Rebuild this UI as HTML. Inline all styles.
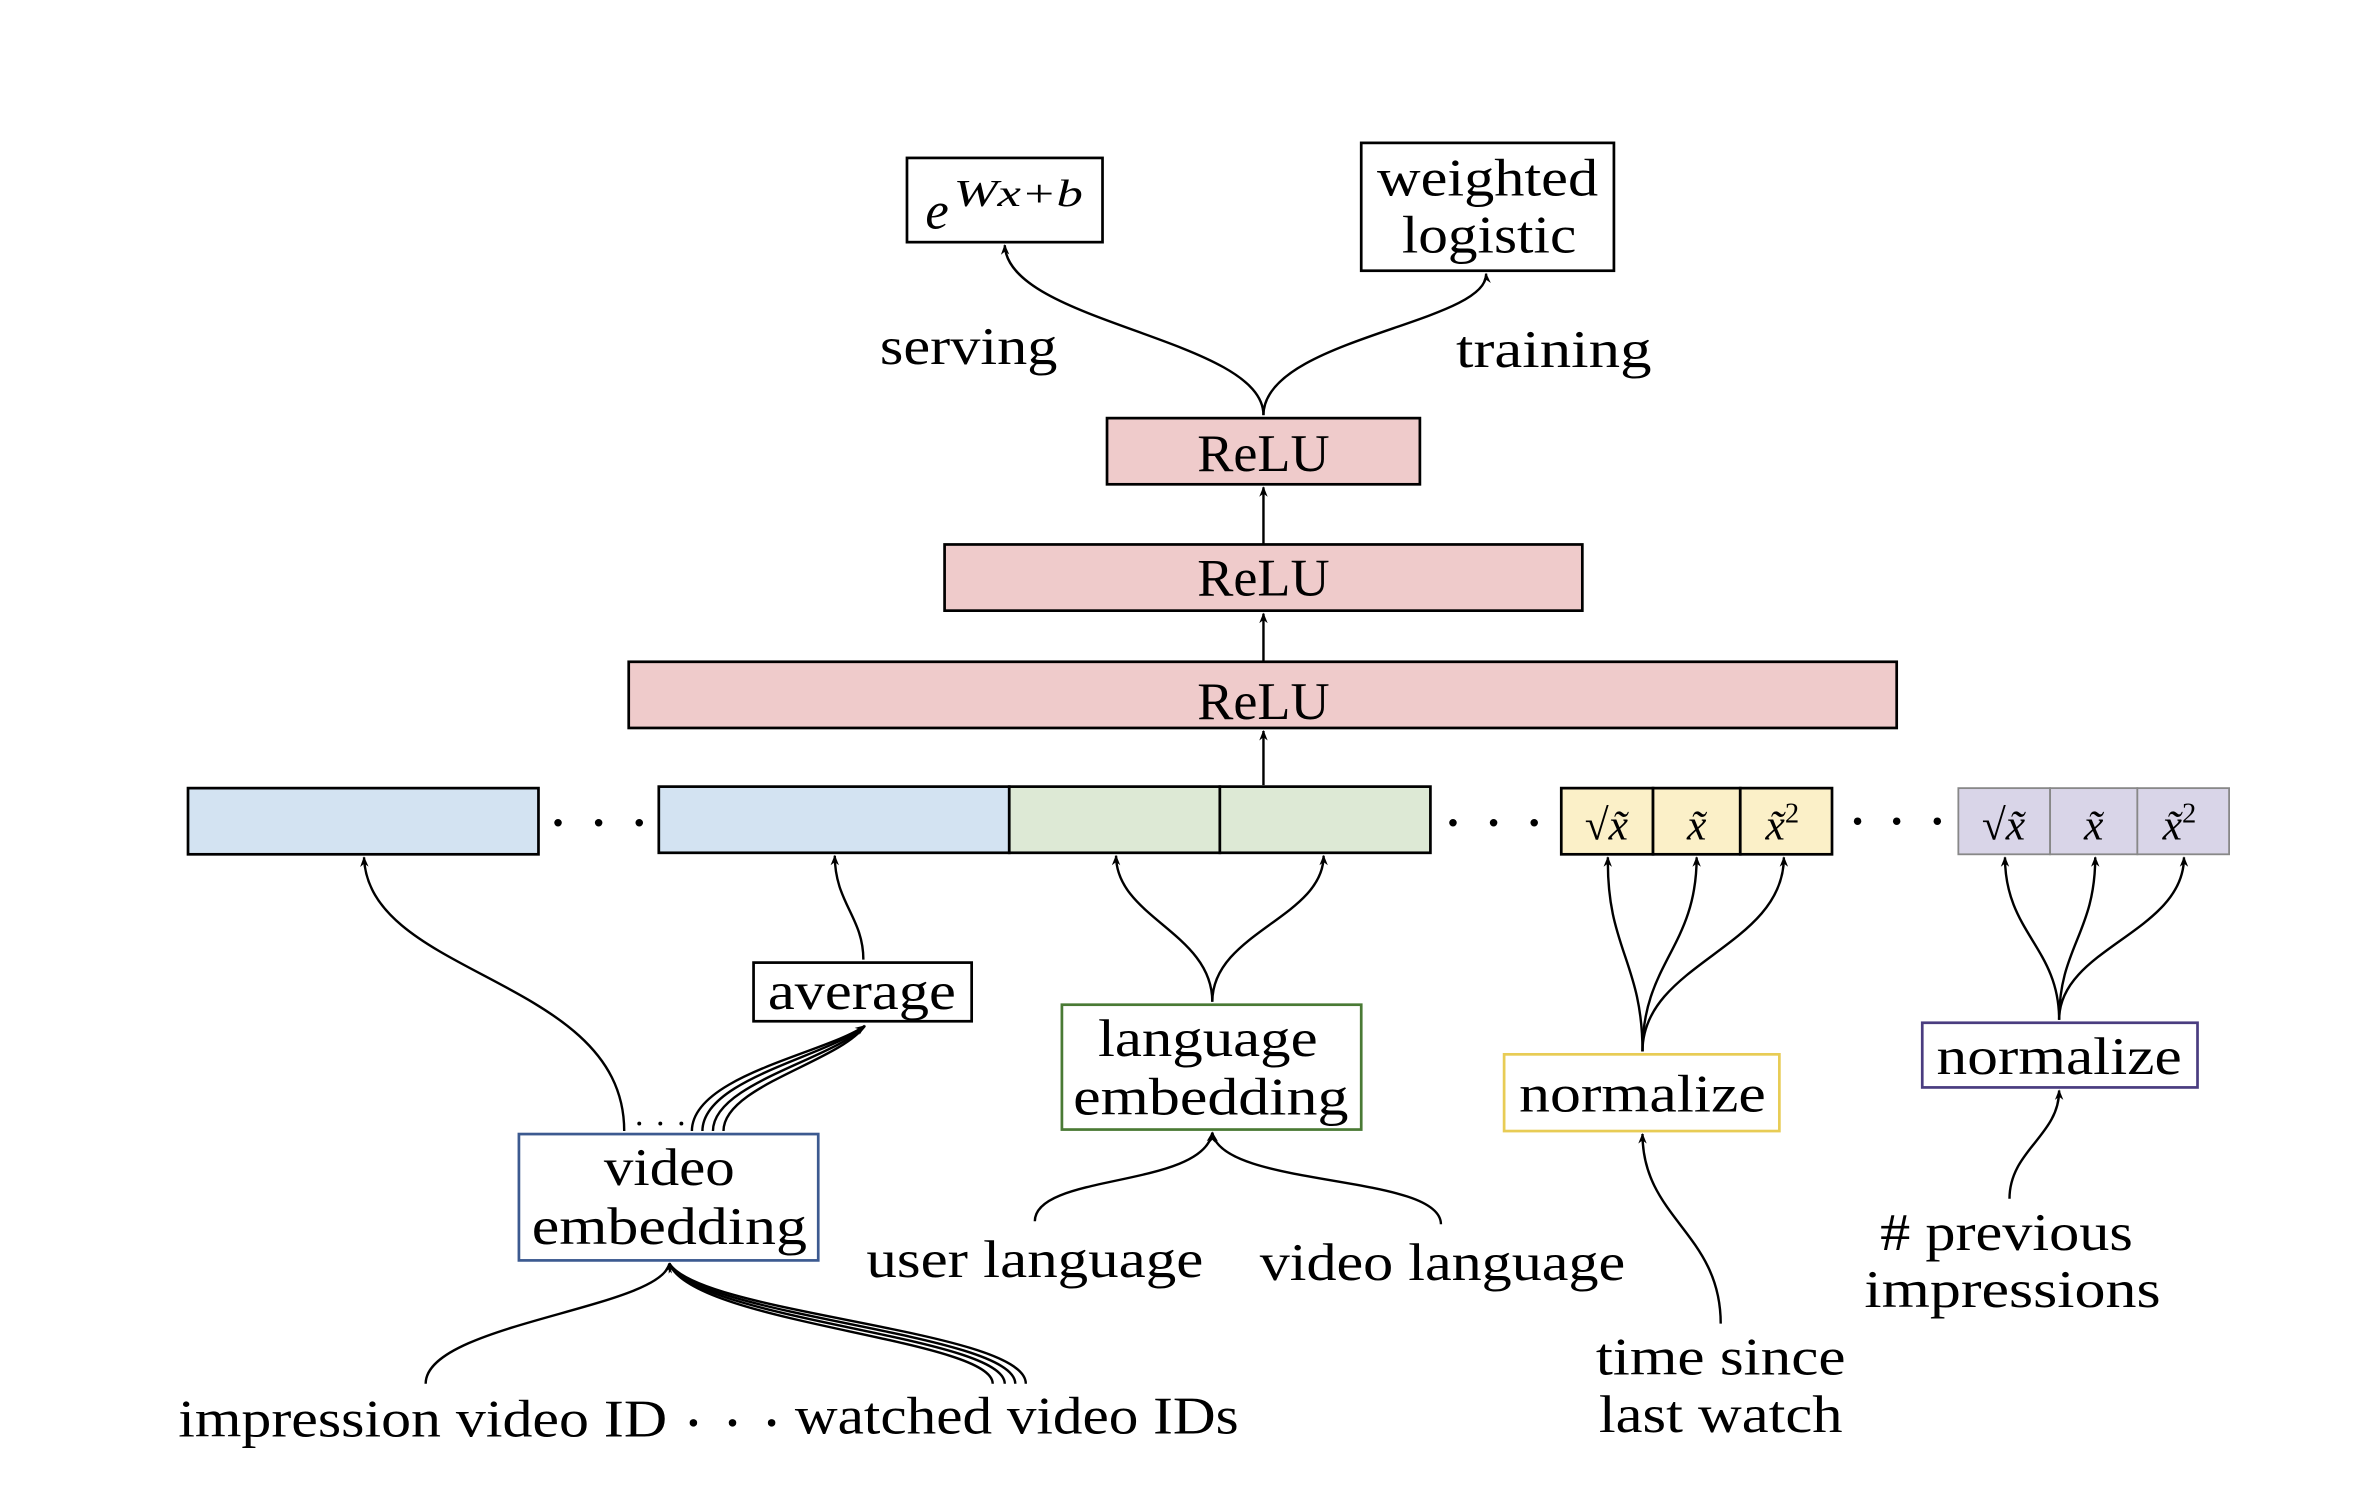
<!DOCTYPE html>
<html><head><meta charset="utf-8"><style>
html,body{margin:0;padding:0;background:#fff;}
svg{display:block;}
text{font-family:"Liberation Serif",serif;fill:#000;}
</style></head><body>
<svg width="2358" height="1500" viewBox="0 0 1567.7 997.3" preserveAspectRatio="none" xmlns="http://www.w3.org/2000/svg">
<defs>
<marker id="a" viewBox="0 0 10 10" refX="9" refY="5" markerWidth="7" markerHeight="7" orient="auto-start-reverse" markerUnits="userSpaceOnUse">
<path d="M0,1 L10,5 L0,9 L3,5 Z" fill="#000"/></marker>
</defs>
<g fill="none" stroke="#000" stroke-width="1.6">
<path d="M840,276 C840,225 670,215 668,163" marker-end="url(#a)"/>
<path d="M840,276 C840,225 990,215 988,182" marker-end="url(#a)"/>
<path d="M840,362 L840,324" marker-end="url(#a)"/>
<path d="M840,440 L840,408" marker-end="url(#a)"/>
<path d="M840,522 L840,486" marker-end="url(#a)"/>
<path d="M415,752 C415,650 245,650 242,570" marker-end="url(#a)"/>
<path d="M460,752 C460,715 550,700 575,682" marker-end="url(#a)"/>
<path d="M467,752 C467,717 552,702 575,682"/>
<path d="M474,752 C474,720 555,704 575,682"/>
<path d="M481,752 C481,722 558,706 575,682"/>
<path d="M574,638 C574,610 555,600 555,569" marker-end="url(#a)"/>
<path d="M806,666 C806,620 742,610 742,569" marker-end="url(#a)"/>
<path d="M806,666 C806,620 880,610 880,569" marker-end="url(#a)"/>
<path d="M688,812 C688,780 800,790 806,753" marker-end="url(#a)"/>
<path d="M958,814 C958,780 812,790 806,753" marker-end="url(#a)"/>
<path d="M1092,699 C1092,640 1068,630 1069,570" marker-end="url(#a)"/>
<path d="M1092,699 C1092,640 1128,630 1128,570" marker-end="url(#a)"/>
<path d="M1092,699 C1092,640 1186,630 1186,570" marker-end="url(#a)"/>
<path d="M1144,880 C1144,820 1092,810 1092,754" marker-end="url(#a)"/>
<path d="M1369,678 C1369,630 1333,620 1333,570" marker-end="url(#a)"/>
<path d="M1369,678 C1369,630 1393,620 1393,570" marker-end="url(#a)"/>
<path d="M1369,678 C1369,630 1452,620 1452,570" marker-end="url(#a)"/>
<path d="M1336,797 C1336,765 1369,755 1369,725" marker-end="url(#a)"/>
<path d="M283,920 C283,880 440,870 445,840" marker-end="url(#a)"/>
<path d="M660,920 C660,890 460,880 445,840" marker-end="url(#a)"/>
<path d="M668,920 C668,888 462,878 445,840"/>
<path d="M675,920 C675,886 464,876 445,840"/>
<path d="M682,920 C682,884 466,874 445,840"/>
</g>
<g stroke="#000" stroke-width="1.8">
<rect x="603" y="105" width="130" height="56" fill="#fff"/>
<rect x="905" y="95" width="168" height="85" fill="#fff"/>
<rect x="736" y="278" width="208" height="44" fill="#efcbcb"/>
<rect x="628" y="362" width="424" height="44" fill="#efcbcb"/>
<rect x="418" y="440" width="843" height="44" fill="#efcbcb"/>
<rect x="125" y="524" width="233" height="44" fill="#d3e3f2"/>
<rect x="438" y="523" width="233" height="44" fill="#d3e3f2"/>
<rect x="671" y="523" width="140" height="44" fill="#dde9d5"/>
<rect x="811" y="523" width="140" height="44" fill="#dde9d5"/>
<rect x="1038" y="524" width="61" height="44" fill="#fbf0c8"/>
<rect x="1099" y="524" width="58" height="44" fill="#fbf0c8"/>
<rect x="1157" y="524" width="61" height="44" fill="#fbf0c8"/>
<rect x="501" y="640" width="145" height="39" fill="#fff"/>
</g>
<g stroke="#888" stroke-width="1.2" fill="#d9d5e8">
<rect x="1302" y="524" width="61" height="44"/>
<rect x="1363" y="524" width="58" height="44"/>
<rect x="1421" y="524" width="61" height="44"/>
</g>
<rect x="706" y="668" width="199" height="83" fill="#fff" stroke="#4a7a35" stroke-width="1.8"/>
<rect x="1000" y="701" width="183" height="51" fill="#fff" stroke="#e8cc55" stroke-width="1.8"/>
<rect x="1278" y="680" width="183" height="43" fill="#fff" stroke="#4a3d80" stroke-width="1.8"/>
<rect x="345" y="754" width="199" height="84" fill="#fff" stroke="#3c5a90" stroke-width="1.8"/>
<g fill="#000">
<circle cx="371" cy="547" r="2.5"/><circle cx="398" cy="547" r="2.5"/><circle cx="425" cy="547" r="2.5"/>
<circle cx="966" cy="547" r="2.5"/><circle cx="993" cy="547" r="2.5"/><circle cx="1020" cy="547" r="2.5"/>
<circle cx="1235" cy="546" r="2.5"/><circle cx="1261" cy="546" r="2.5"/><circle cx="1288" cy="546" r="2.5"/>
<circle cx="461" cy="946" r="2.5"/><circle cx="487" cy="946" r="2.5"/><circle cx="513" cy="946" r="2.5"/>
<circle cx="425" cy="747" r="1.3"/><circle cx="439" cy="747" r="1.3"/><circle cx="453" cy="747" r="1.3"/>
</g>
<g font-size="35" text-anchor="middle" lengthAdjust="spacingAndGlyphs">
<text x="623" y="152" font-style="italic">e</text>
<text x="677" y="137" font-size="25" font-style="italic" textLength="86" lengthAdjust="spacingAndGlyphs">Wx+b</text>
<text x="989" y="130" textLength="147" lengthAdjust="spacingAndGlyphs">weighted</text>
<text x="990" y="168" textLength="116" lengthAdjust="spacingAndGlyphs">logistic</text>
<text x="644" y="242" textLength="118" lengthAdjust="spacingAndGlyphs">serving</text>
<text x="1033" y="244" textLength="130" lengthAdjust="spacingAndGlyphs">training</text>
<text x="840" y="313" textLength="88" lengthAdjust="spacingAndGlyphs">ReLU</text>
<text x="840" y="396" textLength="88" lengthAdjust="spacingAndGlyphs">ReLU</text>
<text x="840" y="478" textLength="88" lengthAdjust="spacingAndGlyphs">ReLU</text>
<text x="573" y="671" textLength="125" lengthAdjust="spacingAndGlyphs">average</text>
<text x="803" y="702" textLength="146" lengthAdjust="spacingAndGlyphs">language</text>
<text x="805" y="741" textLength="183" lengthAdjust="spacingAndGlyphs">embedding</text>
<text x="1092" y="739" textLength="164" lengthAdjust="spacingAndGlyphs">normalize</text>
<text x="1369" y="714" textLength="163" lengthAdjust="spacingAndGlyphs">normalize</text>
<text x="445" y="788" textLength="87" lengthAdjust="spacingAndGlyphs">video</text>
<text x="445" y="827" textLength="183" lengthAdjust="spacingAndGlyphs">embedding</text>
<text x="688" y="849" textLength="224" lengthAdjust="spacingAndGlyphs">user language</text>
<text x="959" y="851" textLength="243" lengthAdjust="spacingAndGlyphs">video language</text>
<text x="1144" y="914" textLength="166" lengthAdjust="spacingAndGlyphs">time since</text>
<text x="1144" y="952" textLength="162" lengthAdjust="spacingAndGlyphs">last watch</text>
<text x="1334" y="831" textLength="168" lengthAdjust="spacingAndGlyphs"># previous</text>
<text x="1338" y="869" textLength="197" lengthAdjust="spacingAndGlyphs">impressions</text>
<text x="281" y="955" textLength="325" lengthAdjust="spacingAndGlyphs">impression video ID</text>
<text x="676" y="953" textLength="295" lengthAdjust="spacingAndGlyphs">watched video IDs</text>
</g>
<g font-size="29" font-style="italic" text-anchor="middle">
<text x="1068" y="558"><tspan font-style="normal">√</tspan>x̃</text>
<text x="1128" y="558">x̃</text>
<text x="1185" y="558">x̃<tspan font-style="normal" font-size="19" dy="-11">2</tspan></text>
<text x="1332" y="558"><tspan font-style="normal">√</tspan>x̃</text>
<text x="1392" y="558">x̃</text>
<text x="1449" y="558">x̃<tspan font-style="normal" font-size="19" dy="-11">2</tspan></text>
</g>
</svg>
</body></html>
